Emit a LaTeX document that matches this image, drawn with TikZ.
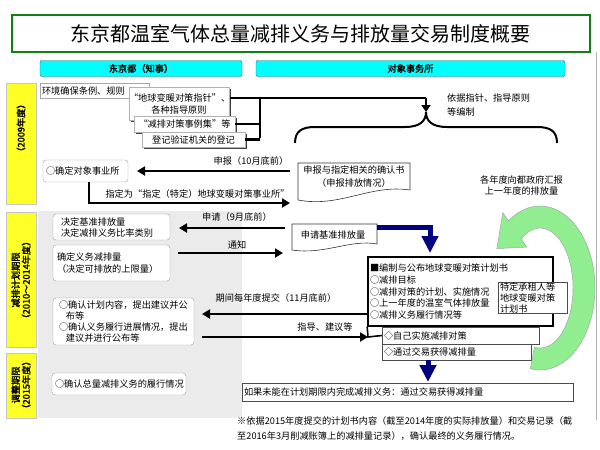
\documentclass[tikz,border=0pt]{standalone}
\usepackage{fontspec}
\setmainfont{Noto Sans CJK SC}[AutoFakeBold=2]
\usetikzlibrary{arrows.meta,shadows}
\definecolor{tgreen}{RGB}{16,128,16}
\definecolor{hcyan}{RGB}{0,255,255}
\definecolor{ybar}{RGB}{255,255,40}
\definecolor{gpanel}{RGB}{235,235,235}
\definecolor{navyb}{RGB}{0,0,128}
\definecolor{lgreen}{RGB}{144,238,144}
\newcommand\fs{\fontsize{9.2}{11.5}\selectfont}
\begin{document}
\begin{tikzpicture}[x=1pt,y=-1pt,
  every node/.style={font=\fs, inner sep=0pt},
  blk/.style={line width=2.3pt, -{Triangle[length=8pt,width=9pt]}},
  navyarr/.style={draw=navyb, line width=5pt, -{Triangle[length=17pt,width=16pt]}},
  hdr/.style={draw=gray!70!black, fill=hcyan, rounded corners=2pt, minimum height=16pt, font=\fs\bfseries},
  ybarst/.style={fill=ybar, draw=gray!45, line width=0.8pt, minimum width=30pt},
  vtext/.style={rotate=90, align=center, font=\fontsize{9.2}{10.5}\selectfont\bfseries},
  sqbox/.style={draw=gray!70, fill=white, inner xsep=2pt, align=left},
  shbox/.style={draw=gray!60, fill=white, align=center, drop shadow={shadow xshift=1.5pt, shadow yshift=-1.5pt, fill=black!75, opacity=1}},
  rbox/.style={draw=gray!75, fill=white, rounded corners=3pt, align=left},
  dbox/.style={draw=gray!60!black, fill=white, inner xsep=2pt, align=left, drop shadow={shadow xshift=1pt, shadow yshift=-1pt, fill=black!70, opacity=1}},
  docst/.style={draw=black!80, fill=white, line width=0.6pt},
  lab/.style={font=\fs},
  garrow/.style={fill=lgreen, draw=gray!70, line width=0.5pt}
]
\useasboundingbox (0,0) rectangle (600,450);
\fill[white] (0,0) rectangle (600,450);

% title
\node[draw=tgreen, line width=2pt, minimum width=578pt, minimum height=37pt, font=\fontsize{20}{22}\selectfont] (title) at (300.5,33.5) {东京都温室气体总量减排义务与排放量交易制度概要};
\draw[gray!60] (596,52) -- (596,420);

% headers
\node[hdr, minimum width=202pt] (hdrL) at (141,68.5) {东京都（知事）};
\node[hdr, minimum width=309pt] (hdrR) at (410.5,68.5) {对象事务所};

% gray panel
\fill[gpanel] (38,211) rectangle (242,418);

% yellow bars
\node[ybarst, minimum height=121pt] (bar1) at (21,144) {};
\node[vtext] (bar1t) at (21,128) {（2009年度）};
\node[ybarst, minimum height=135pt] (bar2) at (21,279.5) {};
\node[vtext] (bar2t) at (21,280) {减排计划期限\\（2010～2014年度）};
\node[ybarst, minimum height=65pt] (bar3) at (21,385.5) {};
\node[vtext] (bar3t) at (21,385) {调整期限\\（2015年度）};

% 2009 top boxes
\node[sqbox, text width=105pt, minimum height=15pt] (env) at (94.5,90.5) {环境确保条例、规则};
\node[shbox, text width=100pt, minimum height=33pt, font=\fontsize{9.2}{12}\selectfont] (g1) at (179,103.5) {“地球变暖对策指针”、\\各种指导原则};
\node[shbox, text width=101pt, minimum height=16pt] (g2) at (184.5,124) {“减排对策事例集”等};
\node[shbox, text width=103pt, minimum height=15pt] (g3) at (193.5,139.5) {登记验证机关的登记};

% bracket from guides
\coordinate (brx) at (260,98);
\coordinate (brtop) at (426,98);
\coordinate (brtip) at (426,112);
\draw[line width=2.3pt] (230,98) -- (brtop);
\draw[line width=2.3pt] (brx) -- (260,138);
\draw[line width=2.3pt] (g2.east) -- (260,124);
\draw[line width=2.3pt] (g3.east) -- (260,139.5);
\draw[line width=2.3pt, -{Triangle[length=7pt,width=9pt]}] (brtop) -- (brtip);
\draw[line width=2pt] (295,143) .. controls (295,131) and (302,127) .. (315,127) -- (405,127) .. controls (420,127) and (426,121) .. (426,112) .. controls (426,121) and (432,127) .. (447,127) -- (537,127) .. controls (550,127) and (557,131) .. (557,143);
\node[anchor=west, align=left, font=\fontsize{9.2}{13.4}\selectfont] (basis) at (447,105) {依据指针、指导原则\\等编制};

% 2009 row
\node[rbox, inner xsep=3pt, text width=79pt, minimum height=22pt] (sel) at (85.5,171) {○确定对象事业所};
\draw[docst] (298,163) -- (410,163) -- (410,190) .. controls (370,184) and (340,208) .. (298,200) -- cycle;
\node[align=center, font=\fontsize{9.2}{12.5}\selectfont] (doc1) at (354,176.5) {申报与指定相关的确认书\\（申报排放情况）};
\coordinate (a1s) at (290,171);
\coordinate (a1e) at (137,171);
\draw[blk] (a1s) -- (a1e);
\node[lab] (l1) at (251,161) {申报（10月底前）};
\coordinate (a2s) at (89,182);
\coordinate (a2e) at (290,203);
\draw[blk] (a2s) |- (a2e);
\node[lab] (l2) at (197.5,194) {指定为“指定（特定）地球变暖对策事业所”};

% 2010-2014 row
\node[rbox, inner xsep=8pt, text width=101pt, minimum height=26pt, font=\fontsize{9.2}{11}\selectfont] (b1) at (111.5,227) {决定基准排放量\\决定减排义务比率类别};
\node[rbox, inner xsep=4pt, text width=109pt, minimum height=36pt, font=\fontsize{9.2}{12}\selectfont] (b2) at (111.5,263) {确定义务减排量\\（决定可排放的上限量）};
\coordinate (a3s) at (285,228);
\coordinate (a3e) at (179,228);
\draw[blk] (a3s) -- (a3e);
\node[lab] (l3) at (237,217) {申请（9月底前）};
\coordinate (a4s) at (178,253);
\coordinate (a4e) at (283,253);
\draw[blk] (a4s) -- (a4e);
\node[lab] (l4) at (237,245) {通知};
\draw[docst] (292,224) -- (377,224) -- (377,244) .. controls (350,239) and (325,255) .. (292,250) -- cycle;
\node (doc2) at (333,235) {申请基准排放量};
\coordinate (n1) at (377,227);
\coordinate (n2) at (430,227);
\coordinate (n3) at (430,253);
\draw[navyarr] (n1) -- (n2) -- (n3);

% green curved arrow
\draw[garrow] (530.45,368.75) arc[start angle=100,end angle=-125,x radius=55,y radius=82] -- (502.8,212.7) -- (496.9,248.6) -- (526.8,247.1) -- (521.1,238.9) arc[start angle=-125,end angle=100,x radius=33,y radius=60] -- cycle;
\node[align=center, font=\fontsize{9.2}{11.5}\selectfont] (glab) at (521.5,185.5) {各年度向都政府汇报\\上一年度的排放量};

% plan box
\node[draw=black, line width=1.6pt, minimum width=185pt, minimum height=69pt, text width=181pt, inner xsep=2pt, align=left, font=\fontsize{9.2}{11.8}\selectfont] (plan) at (460.5,291.5) {■编制与公布地球变暖对策计划书\\○减排目标\\○减排对策的计划、实施情况\\○上一年度的温室气体排放量\\○减排义务履行情况等};
\node[dbox, text width=65pt, minimum height=31pt, font=\fontsize{9.2}{11}\selectfont] (ten) at (532.5,297.5) {特定承租人等\\地球变暖对策\\计划书};
\node[dbox, text width=153pt, minimum height=17pt] (d1) at (460.5,335.5) {◇自己实施减排对策};
\node[dbox, text width=145pt, minimum height=16pt] (d2) at (456.5,352) {◇通过交易获得减排量};
\coordinate (pl) at (368,337);
\draw[line width=1.6pt] (plan.south west) -- (pl) -- (d1.west);

% plan-period arrows
\node[rbox, inner xsep=6pt, text width=129pt, minimum height=47pt, font=\fontsize{9.2}{10.8}\selectfont] (b3) at (123.5,321.5) {○确认计划内容，提出建议并公\\\hspace*{0.75em}布等\\○确认义务履行进展情况，提出\\\hspace*{0.75em}建议并进行公布等};
\coordinate (a5s) at (367,314);
\coordinate (a5e) at (202,314);
\draw[blk] (a5s) -- (a5e);
\node[lab] (l5) at (276,298) {期间每年度提交（11月底前）};
\coordinate (a6s) at (202,337);
\draw[blk] (a6s) -- (pl);
\node[lab] (l6) at (325,327) {指导、建议等};

% 2015 row
\node[rbox, inner xsep=3pt, text width=128pt, minimum height=22pt] (b4) at (119,384) {○确认总量减排义务的履行情况};
\coordinate (n4) at (428,360);
\coordinate (n5) at (428,382);
\draw[navyarr] (n4) -- (n5);
\node[dbox, text width=327pt, minimum height=18pt] (fin) at (407.5,392) {如果未能在计划期限内完成减排义务：通过交易获得减排量};
\node[anchor=west, align=left, font=\fontsize{9.2}{15}\selectfont] (note) at (237,428.5) {※依据2015年度提交的计划书内容（截至2014年度的实际排放量）和交易记录（截\\至2016年3月削减账簿上的减排量记录），确认最终的义务履行情况。};
\end{tikzpicture}
\end{document}
